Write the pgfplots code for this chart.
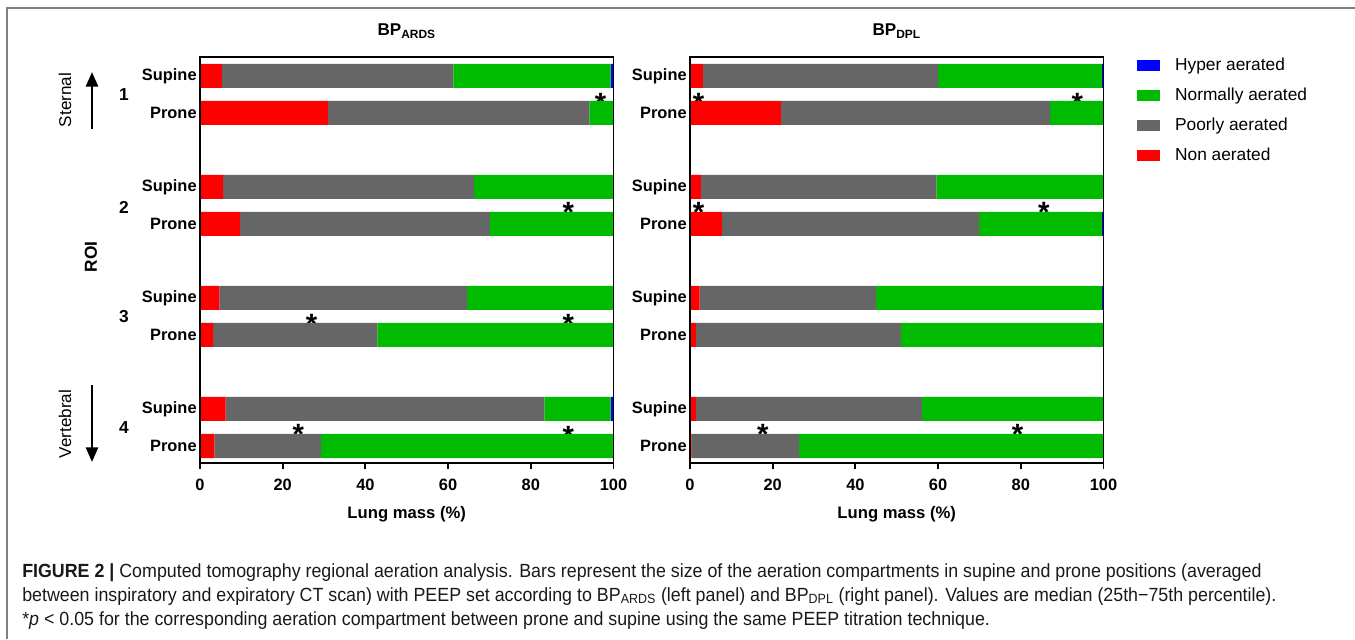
\documentclass[border=0pt]{standalone}
\usepackage{pgfplots}
\usepackage{pgfplotstable}
\pgfplotsset{compat=1.18}
\usetikzlibrary{arrows.meta}
\usepackage{fontspec}
\setmainfont{Liberation Sans}
\newfontfamily\capfont[FakeStretch=0.935]{Liberation Sans}
\definecolor{nonaer}{HTML}{FF0000}
\definecolor{pooraer}{HTML}{666666}
\definecolor{normaer}{HTML}{00BB00}
\definecolor{hypaer}{HTML}{0000FF}

% lung mass (%) per compartment; y: 0/1 = ROI 1 supine/prone, 3/4 = ROI 2, ...
\pgfplotstableread{
y  non  poor  norm  hyp
0  5.3  56.0  38.0  0.7
1  31.0 63.2  5.8   0
3  5.6  60.7  33.7  0
4  9.7  60.4  29.9  0
6  4.7  59.9  35.3  0.1
7  3.2  39.7  57.1  0
9  6.2  77.1  16.0  0.7
10 3.5  25.8  70.7  0
}\ardsdata
\pgfplotstableread{
y  non  poor  norm  hyp
0  3.1  56.9  39.6  0.4
1  22.0 65.1  12.9  0
3  2.6  57.0  40.4  0
4  7.7  62.2  29.7  0.4
6  2.3  42.7  54.7  0.3
7  1.5  49.5  48.9  0.1
9  1.4  54.7  43.8  0.1
10 0.4  26.0  73.6  0
}\dpldata

\tikzset{sig/.style={font=\bfseries\fontsize{22}{22}\selectfont, anchor=base,
    inner sep=0pt, yshift=-12.5pt}}

\pgfplotsset{
  panel/.style={
    scale only axis, width=310.1pt, height=304.5pt,
    xbar stacked, bar width=0.65, y dir=reverse,
    xmin=0, xmax=100, ymin=-0.51, ymax=10.46,
    xtick={0,20,...,100}, ytick={0,1,3,4,6,7,9,10},
    yticklabels={Supine,Prone,Supine,Prone,Supine,Prone,Supine,Prone},
    tick align=outside, xtick pos=bottom, ytick style={draw=none},
    major tick length=4.5pt,
    axis line style={line width=1.4pt},
    xtick style={line width=1.4pt, black},
    ticklabel style={font=\bfseries\fontsize{12.3}{14}\selectfont},
    yticklabel style={xshift=5.5pt},
    xticklabel style={yshift=-4pt},
    /pgf/number format/assume math mode=true,
    xlabel={Lung mass (\%)},
    xlabel style={font=\bfseries\fontsize{12.5}{14}\selectfont,
      at={(axis description cs:0.5,-0.126)}, anchor=center},
    title style={font=\bfseries\fontsize{12.8}{14}\selectfont,
      at={(axis description cs:0.5,1.044)}, anchor=center},
    axis on top, clip=false,
  },
}

\begin{document}
\begin{tikzpicture}
\useasboundingbox (0,0) rectangle (1016.25pt,479.25pt);

\begin{axis}[panel, at={(150pt,132pt)}, anchor=south west,
  title={BP\textsubscript{ARDS}}]
  \addplot[fill=nonaer, draw=none] table[x=non, y=y]{\ardsdata};
  \addplot[fill=pooraer, draw=none] table[x=poor, y=y]{\ardsdata};
  \addplot[fill=normaer, draw=none] table[x=norm, y=y]{\ardsdata};
  \addplot[fill=hypaer, draw=none] table[x=hyp, y=y]{\ardsdata};
  \node[sig] at (axis cs:96.9,0.56) {*};
  \node[sig] at (axis cs:89.1,3.52) {*};
  \node[sig] at (axis cs:27.0,6.54) {*};
  \node[sig] at (axis cs:89.1,6.54) {*};
  \node[sig] at (axis cs:23.8,9.5) {*};
  \node[sig] at (axis cs:89.1,9.57) {*};
\end{axis}

\begin{axis}[panel, at={(517.5pt,132pt)}, anchor=south west,
  title={BP\textsubscript{DPL}},
  reverse legend,
  legend style={at={(1.071,1.006)}, anchor=north west, draw=none, fill=none,
    font=\fontsize{13}{15}\selectfont,
    nodes={inner sep=0pt, text height=9.5pt, text depth=2.5pt},
    row sep=10.5pt},
  legend cell align=left,
  legend image code/.code={\fill[#1] (0pt,-4.1pt) rectangle (17.5pt,4.1pt);
    \path (28.5pt,0pt);}]
  \addplot[fill=nonaer, draw=none] table[x=non, y=y]{\dpldata};
  \addlegendentry{Non aerated}
  \addplot[fill=pooraer, draw=none] table[x=poor, y=y]{\dpldata};
  \addlegendentry{Poorly aerated}
  \addplot[fill=normaer, draw=none] table[x=norm, y=y]{\dpldata};
  \addlegendentry{Normally aerated}
  \addplot[fill=hypaer, draw=none] table[x=hyp, y=y]{\dpldata};
  \addlegendentry{Hyper aerated}
  \node[sig] at (axis cs:2.1,0.56) {*};
  \node[sig] at (axis cs:93.7,0.56) {*};
  \node[sig] at (axis cs:2.1,3.52) {*};
  \node[sig] at (axis cs:85.6,3.52) {*};
  \node[sig] at (axis cs:17.6,9.5) {*};
  \node[sig] at (axis cs:79.2,9.5) {*};
\end{axis}

\begin{scope}[x=0.75pt, y=0.75pt]
\draw[black!50, line width=1.2pt] (7,0) -- (7,631) -- (1356,631);
% ROI annotations left of the first panel
\begin{scope}[font=\bfseries\fontsize{13}{14}\selectfont]
  \node at (124,544) {1};
  \node at (124,432) {2};
  \node at (124,322) {3};
  \node at (124,211) {4};
  \node[rotate=90] at (91,382) {ROI};
\end{scope}
\node[rotate=90, font=\fontsize{12.8}{14}\selectfont] at (65,539) {Sternal};
\node[rotate=90, font=\fontsize{12.8}{14}\selectfont] at (65,215) {Vertebral};
\draw[line width=2pt, -{Triangle[width=9pt,length=11pt]}] (92,510) -- (92,567);
\draw[line width=2pt, -{Triangle[width=9pt,length=11pt]}] (92,254) -- (92,177);

% caption
\begin{scope}[font=\capfont\fontsize{14.3}{17}\selectfont, color=black!90]
  \node[anchor=base west, inner sep=0pt] at (22,62) {\textbf{FIGURE 2 |} Computed tomography regional aeration analysis. Bars represent the size of the aeration compartments in supine and prone positions (averaged};
  \node[anchor=base west, inner sep=0pt] at (22,38) {between inspiratory and expiratory CT scan) with PEEP set according to BP\textsubscript{ARDS} (left panel) and BP\textsubscript{DPL} (right panel). Values are median (25th−75th percentile).};
  \node[anchor=base west, inner sep=0pt] at (22,13.5) {*\textit{p} < 0.05 for the corresponding aeration compartment between prone and supine using the same PEEP titration technique.};
\end{scope}
\end{scope}
\end{tikzpicture}
\end{document}
